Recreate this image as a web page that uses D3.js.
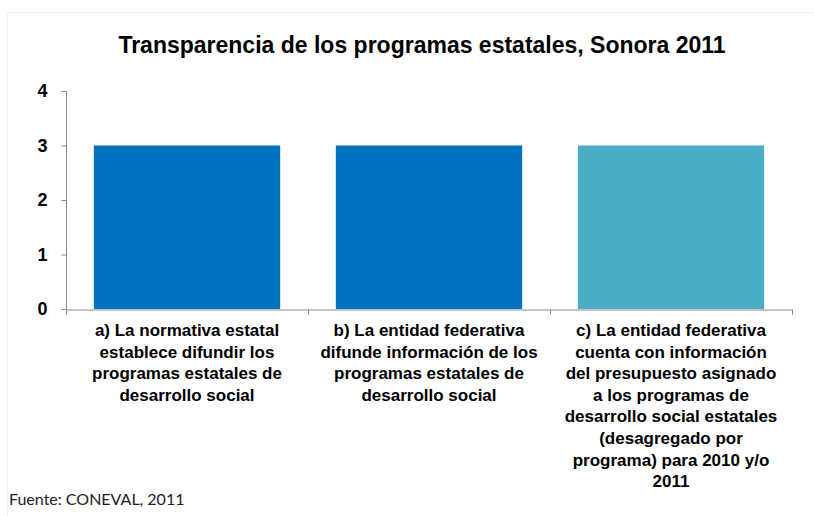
<!DOCTYPE html>
<html>
<head>
<meta charset="utf-8">
<script src="https://cdn.jsdelivr.net/npm/d3@7"></script>
<style>
  body { margin: 0; background: #fff; }
  svg { display: block; }
</style>
</head>
<body>
<div id="chart"></div>
<script>
var categories = [
    ["a) La normativa estatal", "establece difundir los", "programas estatales de", "desarrollo social"],
    ["b) La entidad federativa", "difunde información de los", "programas estatales de", "desarrollo social"],
    ["c) La entidad federativa", "cuenta con información", "del presupuesto asignado", "a los programas de", "desarrollo social estatales", "(desagregado por", "programa) para 2010 y/o", "2011"]
];
var values = [3, 3, 3];
var barColors = ["#0070C0", "#0070C0", "#4BACC6"];
var yTicks = [0, 1, 2, 3, 4];

var margins = { top: 91, left: 66, right: 22, bottom: 207 };
var svgWidth = 814, svgHeight = 516;
var font = "'Liberation Sans', Arial, sans-serif";

var svg = d3.select("#chart")
    .append("svg")
    .attr("width", svgWidth)
    .attr("height", svgHeight);

// faint chart frame
svg.append("path")
    .attr("d", "M7.5,516 V12.5 H814")
    .attr("fill", "none")
    .attr("stroke", "#f2f2f2");

svg.append("text")
    .attr("x", 422)
    .attr("y", 53)
    .attr("text-anchor", "middle")
    .style("font-family", font)
    .style("font-weight", "bold")
    .style("font-size", "23px")
    .text("Transparencia de los programas estatales, Sonora 2011");

var xScale = d3.scaleBand()
    .domain(d3.range(categories.length))
    .range([margins.left, svgWidth - margins.right])
    .paddingInner(0.23)
    .paddingOuter(0.115);

var xBounds = d3.scaleLinear()
    .domain([0, categories.length])
    .range([margins.left, svgWidth - margins.right]);

var yScale = d3.scaleLinear()
    .domain([0, 4])
    .range([svgHeight - margins.bottom, margins.top]);

// bars
svg.selectAll("rect.bar")
    .data(values)
    .enter()
    .append("rect")
    .attr("class", "bar")
    .attr("x", (d, i) => xScale(i))
    .attr("width", xScale.bandwidth())
    .attr("y", d => yScale(d))
    .attr("height", d => yScale(0) - yScale(d))
    .attr("fill", (d, i) => barColors[i]);

// y axis
var yAxis = d3.axisLeft(yScale)
    .tickValues(yTicks)
    .tickSize(5)
    .tickPadding(14)
    .tickFormat(d3.format("d"));

var yG = svg.append("g")
    .attr("transform", `translate(${margins.left + 0.5},0)`)
    .call(yAxis);
yG.select(".domain").remove();
yG.append("line")
    .attr("y1", yScale(0)).attr("y2", yScale(4))
    .attr("stroke", "#8c8c8c");
yG.selectAll("line").attr("stroke", "#8c8c8c");
yG.selectAll("text")
    .style("font-family", font)
    .style("font-weight", "bold")
    .style("font-size", "18px")
    .attr("fill", "#000");

// x axis: ticks at category boundaries
var xAxis = d3.axisBottom(xBounds)
    .tickValues(d3.range(categories.length + 1))
    .tickSize(5)
    .tickSizeOuter(5)
    .tickFormat("");

var xG = svg.append("g")
    .attr("transform", `translate(0,${yScale(0) + 0.5})`)
    .call(xAxis);
xG.selectAll("path, line").attr("stroke", "#8c8c8c");

// category labels
var labels = svg.selectAll("text.cat")
    .data(categories)
    .enter()
    .append("text")
    .attr("class", "cat")
    .attr("text-anchor", "middle")
    .style("font-family", font)
    .style("font-weight", "bold")
    .style("font-size", "17px")
    .attr("fill", "#000");

labels.selectAll("tspan")
    .data((d, i) => d.map(line => ({ line: line, i: i })))
    .enter()
    .append("tspan")
    .attr("x", d => xScale(d.i) + xScale.bandwidth() / 2)
    .attr("y", (d, j) => 336 + j * 21.6)
    .text(d => d.line);

svg.append("text")
    .attr("x", 9)
    .attr("y", 505)
    .style("font-family", "Lato, sans-serif")
    .style("font-size", "16px")
    .attr("fill", "#222")
    .text("Fuente: CONEVAL, 2011");
</script>
</body>
</html>
